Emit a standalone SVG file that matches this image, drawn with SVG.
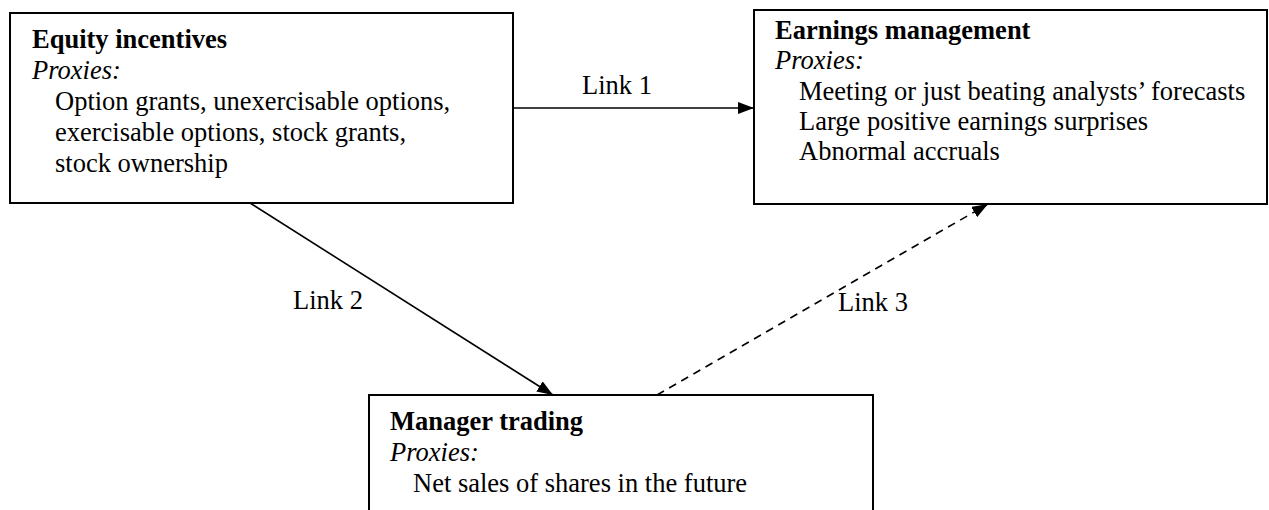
<svg xmlns="http://www.w3.org/2000/svg" width="1269" height="510" viewBox="0 0 1269 510">
<style>
.box{fill:#fff;stroke:#000;stroke-width:2}
text{font-family:"Liberation Serif","Times New Roman",serif;font-size:26.5px;fill:#000}
.b{font-weight:bold}
.i{font-style:italic}
.ln{stroke:#000;stroke-width:1.6;fill:none}
.dash{stroke-dasharray:8 6}
</style>
<defs>
<marker id="ah" viewBox="0 0 16 12" refX="16" refY="6" markerWidth="16" markerHeight="12" markerUnits="userSpaceOnUse" orient="auto">
<path d="M0,0 L16,6 L0,12 Z" fill="#000"/>
</marker>
</defs>
<rect width="1269" height="510" fill="#fff"/>
<g id="connectors">
<line class="ln" x1="513" y1="108" x2="754" y2="108" marker-end="url(#ah)"/>
<line class="ln" x1="250" y1="203" x2="553" y2="395" marker-end="url(#ah)"/>
<line class="ln dash" x1="657" y1="395" x2="988" y2="204" marker-end="url(#ah)"/>
<text x="582" y="94">Link 1</text>
<text x="293" y="309">Link 2</text>
<text x="838" y="311">Link 3</text>
</g>
<g id="equity">
<rect class="box" x="10" y="13" width="503" height="190"/>
<text class="b" x="32" y="48">Equity incentives</text>
<text class="i" x="32" y="79">Proxies:</text>
<text x="55" y="110">Option grants, unexercisable options,</text>
<text x="55" y="141">exercisable options, stock grants,</text>
<text x="55" y="172">stock ownership</text>
</g>
<g id="earnings">
<rect class="box" x="754" y="10" width="513" height="194"/>
<text class="b" x="775" y="39">Earnings management</text>
<text class="i" x="775" y="69">Proxies:</text>
<text x="799" y="100">Meeting or just beating analysts’ forecasts</text>
<text x="799" y="130">Large positive earnings surprises</text>
<text x="799" y="160">Abnormal accruals</text>
</g>
<g id="trading">
<rect class="box" x="369" y="395" width="504" height="130"/>
<text class="b" x="390" y="430">Manager trading</text>
<text class="i" x="390" y="461">Proxies:</text>
<text x="413" y="492">Net sales of shares in the future</text>
</g>
</svg>
